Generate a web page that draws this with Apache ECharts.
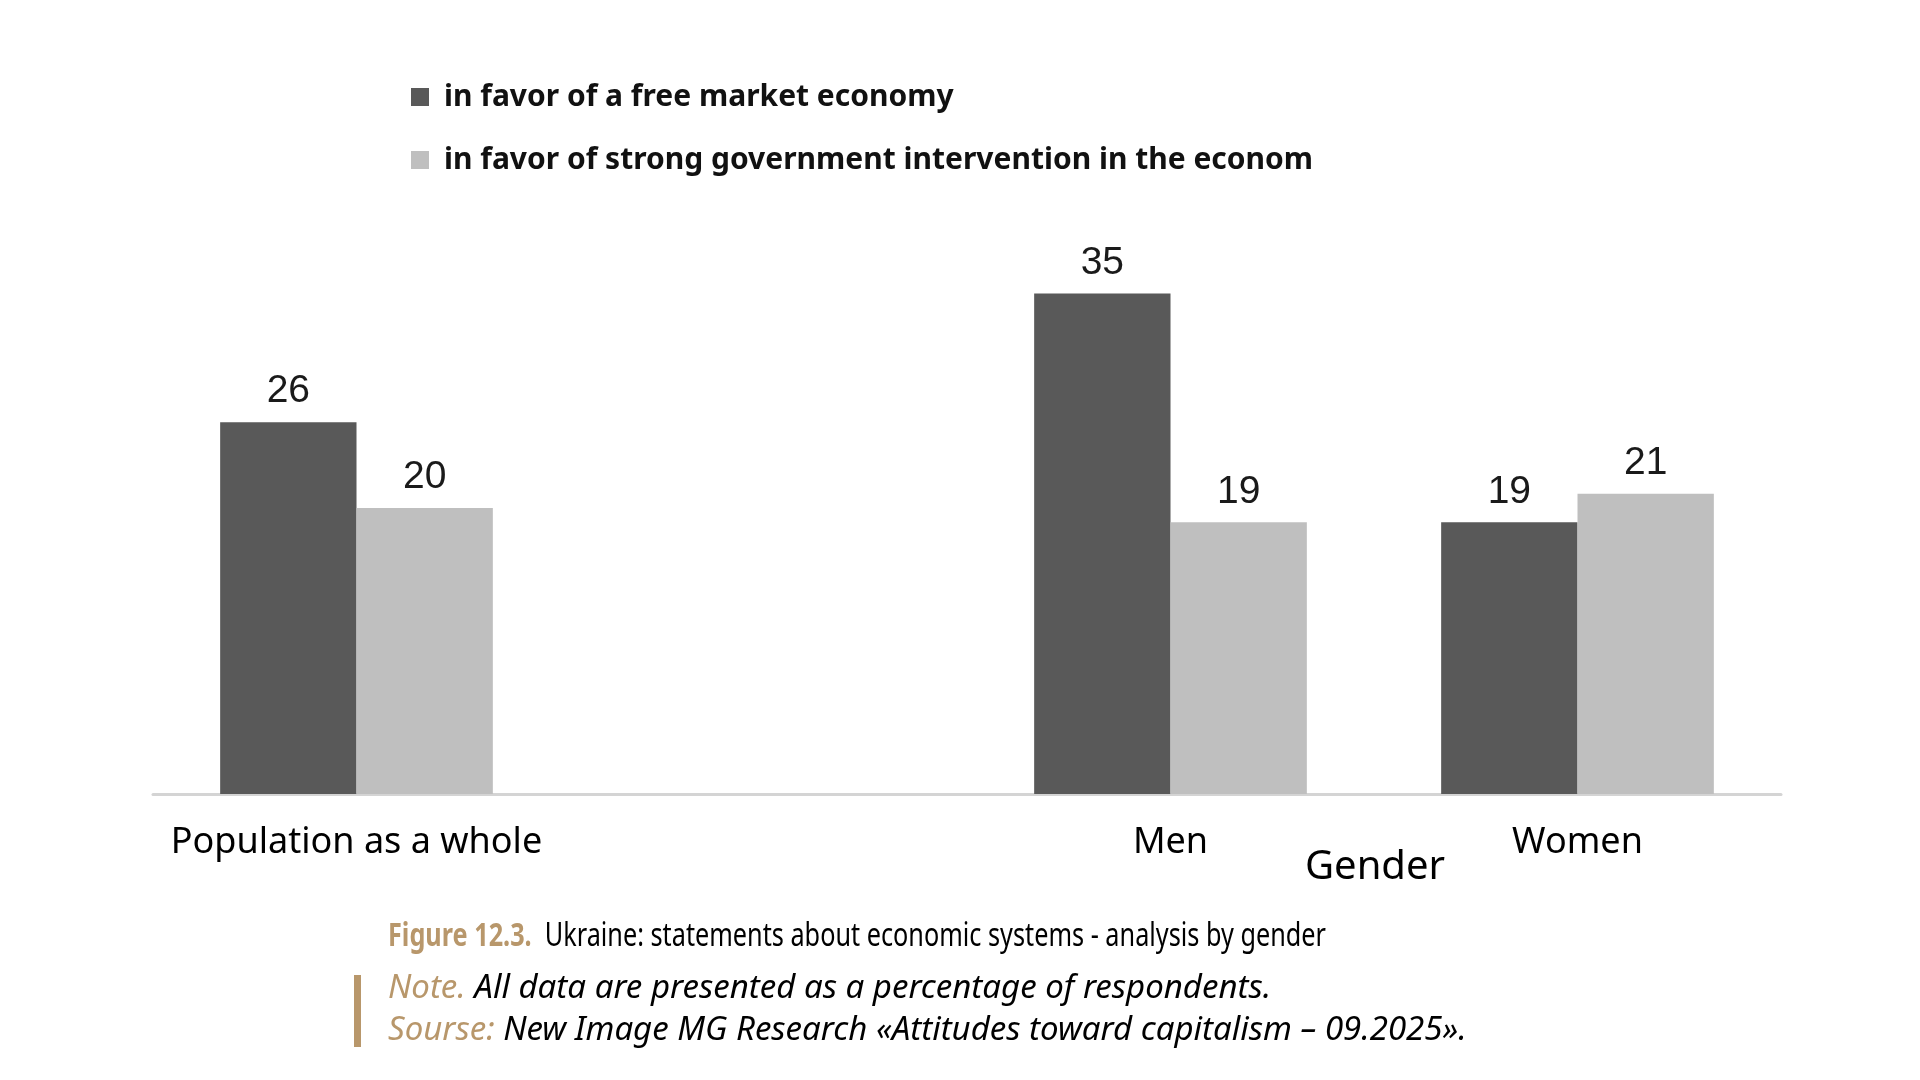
<!DOCTYPE html>
<html>
<head>
<meta charset="utf-8">
<script src="https://cdn.jsdelivr.net/npm/echarts@6/dist/echarts.min.js"></script>
<style>
html,body{margin:0;padding:0;background:#fff;}
#chart{width:1920px;height:1080px;}
</style>
</head>
<body>
<div id="chart"></div>
<script>
const categories = ['Population as a whole', '', 'Men', 'Women'];
const freeMarket = [26, '-', 35, 19];
const govIntervention = [20, '-', 19, 21];
const seriesNames = ['in favor of a free market economy', 'in favor of strong government intervention in the econom'];
const groupLabel = 'Gender';
const captionFigure = 'Figure 12.3.';
const captionTitle = 'Ukraine: statements about economic systems - analysis by gender';
const noteLabel = 'Note.';
const noteText = 'All data are presented as a percentage of respondents.';
const sourceLabel = 'Sourse:';
const sourceText = 'New Image MG Research «Attitudes toward capitalism – 09.2025».';

const gold = '#b8976b';
const chart = echarts.init(document.getElementById('chart'));
const labelStyle = {
  show: true, position: 'top', distance: 11,
  fontFamily: 'Liberation Sans, Arial, sans-serif', fontSize: 39, color: '#1a1a1a'
};
const italicRich = (size) => ({
  a: { fontFamily: 'Noto Sans, sans-serif', fontStyle: 'italic', fontSize: size, fill: gold, color: gold },
  b: { fontFamily: 'Noto Sans, sans-serif', fontStyle: 'italic', fontSize: size, fill: '#000', color: '#000' }
});
chart.setOption({
  animation: false,
  backgroundColor: '#ffffff',
  legend: {
    orient: 'vertical', left: 406, top: 75,
    itemWidth: 18, itemHeight: 18, itemGap: 29,
    icon: 'rect',
    textStyle: { fontFamily: 'Noto Sans, sans-serif', fontWeight: 'bold', fontSize: 30, color: '#111', padding: [0, 0, 0, 10], lineHeight: 34 },
    data: seriesNames
  },
  grid: { left: 153, right: 139, top: 222, bottom: 286 },
  xAxis: {
    type: 'category', data: categories,
    axisLine: { show: true, lineStyle: { color: '#d4d4d4', width: 3 } },
    axisTick: { show: false },
    axisLabel: { margin: 31, fontFamily: 'Noto Sans, sans-serif', fontSize: 36, color: '#000', interval: 0 }
  },
  yAxis: { type: 'value', min: 0, max: 40, show: false, splitLine: { show: false } },
  series: [
    { name: seriesNames[0], type: 'bar', data: freeMarket, barGap: '0%', barCategoryGap: '33%',
      itemStyle: { color: '#595959' }, label: labelStyle },
    { name: seriesNames[1], type: 'bar', data: govIntervention,
      itemStyle: { color: '#bfbfbf' }, label: labelStyle }
  ],
  graphic: [
    { type: 'text', position: [1375, 868], style: { text: groupLabel, x: 0, y: 0, align: 'center', verticalAlign: 'middle',
      fontFamily: 'Noto Sans, sans-serif', fontSize: 40, fill: '#000' } },
    { type: 'text', position: [388, 937], scaleX: 0.765, scaleY: 1, style: {
      text: '{a|' + captionFigure + '  }{b|' + captionTitle + '}', verticalAlign: 'middle',
      rich: {
        a: { fontFamily: 'Noto Sans, sans-serif', fontSize: 33, fontWeight: 'bold', fill: gold, color: gold },
        b: { fontFamily: 'Noto Sans, sans-serif', fontSize: 33, fill: '#000', color: '#000' }
      } } },
    { type: 'text', position: [388, 989], style: {
      text: '{a|' + noteLabel + ' }{b|' + noteText + '}', verticalAlign: 'middle', rich: italicRich(33) } },
    { type: 'text', position: [388, 1031], style: {
      text: '{a|' + sourceLabel + ' }{b|' + sourceText + '}', verticalAlign: 'middle', rich: italicRich(33) } },
    { type: 'rect', shape: { x: 354, y: 975, width: 7, height: 72 }, style: { fill: gold } }
  ]
});
</script>
</body>
</html>
